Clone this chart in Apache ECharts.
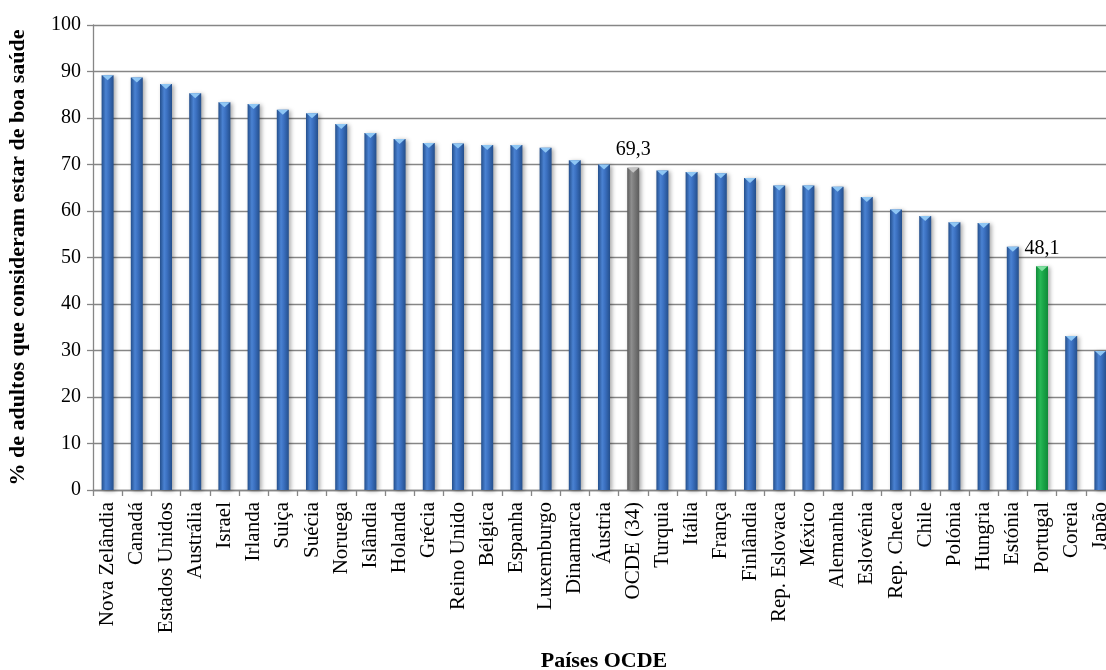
<!DOCTYPE html>
<html>
<head>
<meta charset="utf-8">
<script src="https://cdn.jsdelivr.net/npm/echarts@6/dist/echarts.min.js"></script>
<style>
  html, body { margin: 0; padding: 0; background: #ffffff; }
  #chart { width: 1106px; height: 670px; }
</style>
</head>
<body>
<div id="chart"></div>
<script>
// Self-rated good health among adults, OECD countries
const categories = [
  'Nova Zelândia', 'Canadá', 'Estados Unidos', 'Austrália', 'Israel', 'Irlanda',
  'Suiça', 'Suécia', 'Noruega', 'Islândia', 'Holanda', 'Grécia', 'Reino Unido',
  'Bélgica', 'Espanha', 'Luxemburgo', 'Dinamarca', 'Áustria', 'OCDE (34)',
  'Turquia', 'Itália', 'França', 'Finlândia', 'Rep. Eslovaca', 'México',
  'Alemanha', 'Eslovénia', 'Rep. Checa', 'Chile', 'Polónia', 'Hungria',
  'Estónia', 'Portugal', 'Coreia', 'Japão'
];
const values = [
  89.2, 88.7, 87.3, 85.3, 83.4, 83.0,
  81.8, 81.0, 78.7, 76.8, 75.5, 74.6, 74.5,
  74.2, 74.2, 73.6, 70.9, 70.0, 69.3,
  68.7, 68.4, 68.1, 67.1, 65.5, 65.5,
  65.2, 63.0, 60.3, 58.9, 57.6, 57.4,
  52.3, 48.1, 33.1, 29.9
];
const labelled = ['OCDE (34)', 'Portugal'];
const yTicks = [0, 10, 20, 30, 40, 50, 60, 70, 80, 90, 100];

const FONT = "'Liberation Serif', 'Times New Roman', serif";

// Cylinder-like shading across each bar
function shade(dark, mid, light) {
  return {
    type: 'linear', x: 0, y: 0, x2: 1, y2: 0,
    colorStops: [
      { offset: 0, color: dark },
      { offset: 0.35, color: light },
      { offset: 0.6, color: mid },
      { offset: 1, color: dark }
    ]
  };
}
const palette = {
  blue:  { body: shade('#244f8c', '#3a6fbf', '#4a82d2'), cap: '#8ec6f4' },
  gray:  { body: shade('#5c5c5c', '#7a7a7a', '#8e8e8e'), cap: '#c4c4c4' },
  green: { body: shade('#108a38', '#1aa648', '#28b856'), cap: '#7fe0a0' }
};
function tone(name) {
  if (name === 'OCDE (34)') return palette.gray;
  if (name === 'Portugal') return palette.green;
  return palette.blue;
}

const barData = values.map((v, i) => {
  const name = categories[i];
  const t = tone(name);
  const item = { value: v, itemStyle: { color: t.body } };
  if (labelled.includes(name)) {
    item.label = {
      show: true, position: 'top', distance: 8,
      fontFamily: FONT, fontSize: 20, color: '#000',
      formatter: p => p.value.toFixed(1).replace('.', ',')
    };
  }
  return item;
});
const capData = values.map((v, i) => ({
  value: v, itemStyle: { color: tone(categories[i]).cap }
}));

const chart = echarts.init(document.getElementById('chart'));
chart.setOption({
  animation: false,
  backgroundColor: '#ffffff',
  grid: {
    left: 93, top: 25, width: 1022, height: 465,
    containLabel: false, outerBoundsMode: 'none'
  },
  xAxis: {
    type: 'category',
    data: categories,
    name: 'Países OCDE',
    nameLocation: 'middle',
    nameGap: 160,
    nameTextStyle: { fontFamily: FONT, fontSize: 22, fontWeight: 'bold', color: '#000' },
    axisLine: { lineStyle: { color: '#868686', width: 1.3 } },
    axisTick: { show: true, length: 6, lineStyle: { color: '#868686', width: 1.3 } },
    axisLabel: {
      rotate: 90, interval: 0, margin: 12,
      fontFamily: FONT, fontSize: 21, color: '#000'
    }
  },
  yAxis: {
    type: 'value',
    min: 0, max: 100, interval: 10,
    name: '% de adultos que consideram estar de boa saúde',
    nameLocation: 'middle',
    nameGap: 64,
    nameRotate: 90,
    nameTextStyle: { fontFamily: FONT, fontSize: 22, fontWeight: 'bold', color: '#000' },
    axisLine: { show: true, lineStyle: { color: '#868686', width: 1.3 } },
    axisTick: { show: true, length: 6, lineStyle: { color: '#868686', width: 1.3 } },
    axisLabel: {
      margin: 12, fontFamily: FONT, fontSize: 20, color: '#000',
      formatter: v => (yTicks.includes(v) ? String(v) : '')
    },
    splitLine: { lineStyle: { color: '#868686', width: 1.3 } }
  },
  series: [
    {
      type: 'bar',
      data: barData,
      barWidth: 12,
      itemStyle: {
        shadowColor: 'rgba(0,0,0,0.35)',
        shadowBlur: 4,
        shadowOffsetX: 2,
        shadowOffsetY: 1
      },
      z: 2
    },
    {
      // bevelled cap on top of each bar
      type: 'pictorialBar',
      data: capData,
      symbol: 'path://M0,0 L10,0 L5,6 Z',
      symbolSize: [11, 5],
      symbolPosition: 'end',
      symbolOffset: [0, 0],
      barGap: '-100%',
      silent: true,
      z: 3
    }
  ]
});
</script>
</body>
</html>
